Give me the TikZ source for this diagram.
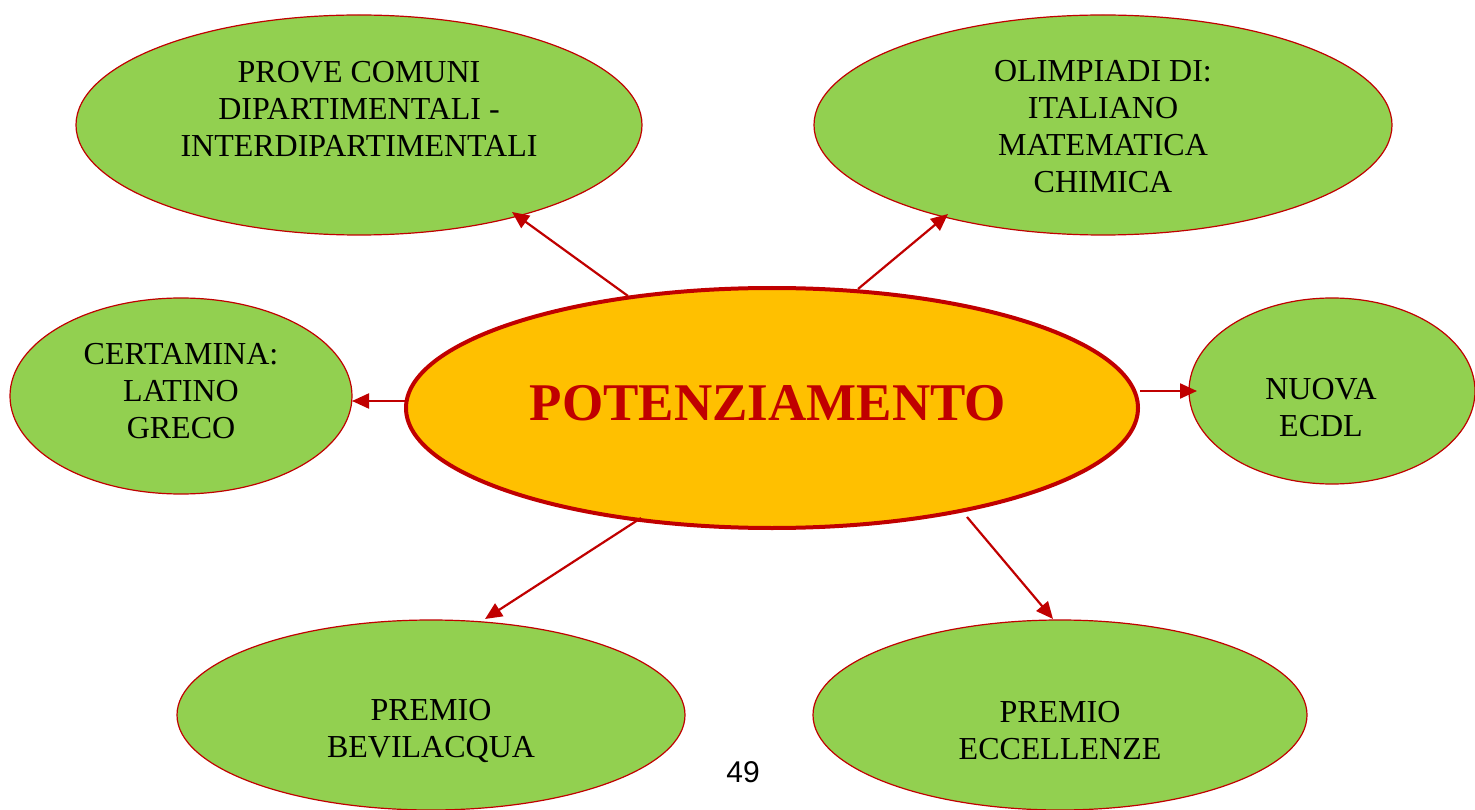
\documentclass[tikz,border=0pt]{standalone}
\usepackage{fontspec}
\setmainfont{Liberation Serif}
\newfontfamily\arialfont{Liberation Sans}
\usetikzlibrary{shapes.geometric,arrows.meta}
\definecolor{leaf}{HTML}{92D050}
\definecolor{gold}{HTML}{FFC000}
\definecolor{deepred}{HTML}{C00000}
\tikzset{
  bubble/.style={ellipse,draw=deepred,line width=1.2pt,fill=leaf,inner sep=0pt},
  hub/.style={ellipse,draw=deepred,line width=4pt,fill=gold,inner sep=0pt},
  lbl/.style={align=center,inner sep=0pt,font=\fontsize{32}{37}\selectfont},
  link/.style={draw=deepred,line width=2.2pt,-{Triangle[length=17pt,width=15pt]}}
}
\begin{document}
\begin{tikzpicture}[x=1pt,y=-1pt]
\useasboundingbox (0,0) rectangle (1475,810);
\node[bubble,minimum width=566pt,minimum height=220pt] (tl) at (359,125) {};
\node[bubble,minimum width=578pt,minimum height=220pt] (tr) at (1103,125) {};
\node[bubble,minimum width=342pt,minimum height=196pt] (l) at (181,396) {};
\node[bubble,minimum width=286pt,minimum height=186pt] (r) at (1332,391) {};
\node[bubble,minimum width=508pt,minimum height=190pt] (bl) at (431,715) {};
\node[bubble,minimum width=494pt,minimum height=190pt] (br) at (1060,715) {};
\node[hub,minimum width=732pt,minimum height=240pt] (c) at (772,408) {};
\node[lbl] (tltext) at (359,109) {PROVE COMUNI\\DIPARTIMENTALI -\\INTERDIPARTIMENTALI};
\node[lbl] (trtext) at (1103,127) {OLIMPIADI DI:\\ITALIANO\\MATEMATICA\\CHIMICA};
\node[lbl] (ltext) at (181,391) {CERTAMINA:\\LATINO\\GRECO};
\node[lbl] (rtext) at (1321,408) {NUOVA\\ECDL};
\node[lbl] (bltext) at (431,731) {PREMIO\\BEVILACQUA};
\node[lbl] (brtext) at (1060,731) {PREMIO\\ECCELLENZE};
\node[inner sep=0pt,text=deepred,font=\fontsize{53}{58}\selectfont\bfseries] (ctext) at (768,403) {POTENZIAMENTO};
\node[inner sep=0pt,font=\arialfont\fontsize{30}{32}\selectfont] (page) at (743,772) {49};
\coordinate (a1s) at (628,296); \coordinate (a1e) at (512,212);
\coordinate (a2s) at (858,289); \coordinate (a2e) at (948,214);
\coordinate (a3s) at (405,401); \coordinate (a3e) at (352,401);
\coordinate (a4s) at (1140,391); \coordinate (a4e) at (1197,391);
\coordinate (a5s) at (641,518); \coordinate (a5e) at (485,619);
\coordinate (a6s) at (967,517); \coordinate (a6e) at (1053,619);
\draw[link] (a1s) -- (a1e);
\draw[link] (a2s) -- (a2e);
\draw[link] (a3s) -- (a3e);
\draw[link] (a4s) -- (a4e);
\draw[link] (a5s) -- (a5e);
\draw[link] (a6s) -- (a6e);
\end{tikzpicture}
\end{document}
